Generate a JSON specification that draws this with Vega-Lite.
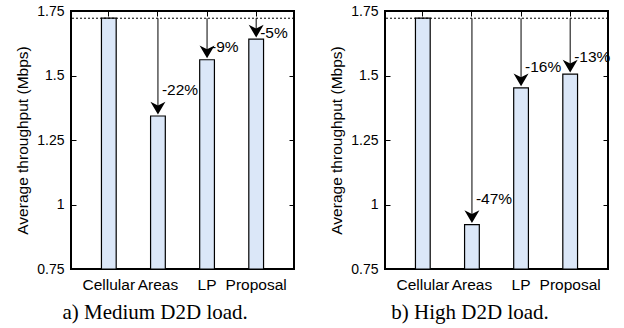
{
  "$schema": "https://vega.github.io/schema/vega-lite/v6.json",
  "background": "white",
  "padding": {"left": 14, "top": 3, "right": 0, "bottom": 0},
  "config": {
    "font": "Liberation Sans",
    "view": {"stroke": "black", "strokeWidth": 2},
    "axis": {"domain": false, "grid": false, "labelColor": "black", "titleColor": "black", "tickColor": "black", "labelFont": "Liberation Sans", "titleFont": "Liberation Sans", "titleFontWeight": "normal"},
    "title": {"font": "Liberation Serif", "fontSize": 21, "fontWeight": "normal", "orient": "bottom", "color": "black", "offset": 9, "frame": "bounds", "anchor": "middle"},
    "concat": {"spacing": 32}
  },
  "datasets": {
    "medium": [
      {"cat": "Cellular", "value": 1.722, "label": ""},
      {"cat": "Areas", "value": 1.343, "label": "-22%"},
      {"cat": "LP", "value": 1.561, "label": "-9%"},
      {"cat": "Proposal", "value": 1.641, "label": "-5%"}
    ],
    "high": [
      {"cat": "Cellular", "value": 1.722, "label": ""},
      {"cat": "Areas", "value": 0.922, "label": "-47%"},
      {"cat": "LP", "value": 1.452, "label": "-16%"},
      {"cat": "Proposal", "value": 1.505, "label": "-13%"}
    ]
  },
  "hconcat": [
    {
      "width": 223, "height": 258,
      "data": {"name": "medium"},
      "title": {"text": "a) Medium D2D load."},
      "transform": [
        {"joinaggregate": [{"op": "max", "field": "value", "as": "ref"}]},
        {"calculate": "datum.value + min(0.3 * (datum.ref - datum.value), 0.1)", "as": "labelY"}
      ],
      "resolve": {"axis": {"x": "independent", "y": "independent"}},
      "layer": [
        {
          "mark": {"type": "bar", "fill": "#dbe7f8", "stroke": "black", "strokeWidth": 1.2},
          "encoding": {
            "x": {"field": "cat", "type": "nominal", "sort": ["Cellular", "Areas", "LP", "Proposal"], "scale": {"domain": ["Cellular", "Areas", "LP", "Proposal"], "paddingInner": 0.7, "paddingOuter": 0.62},
              "axis": {"orient": "bottom", "title": null, "labelAngle": 0, "ticks": false, "labelFontSize": 15.5, "labelPadding": 8}},
            "y": {"field": "value", "type": "quantitative", "scale": {"domain": [0.75, 1.75], "zero": false, "nice": false},
              "axis": {"orient": "left", "values": [0.75, 1, 1.25, 1.5, 1.75], "format": ".3~g", "tickSize": -5, "labelPadding": 12, "labelFontSize": 14, "title": "Average throughput (Mbps)", "titleFontSize": 15.5, "titlePadding": 6}},
            "y2": {"datum": 0.75}
          }
        },
        {
          "transform": [{"filter": "datum.label != ''"}],
          "mark": {"type": "rule", "strokeWidth": 1, "color": "black", "y2Offset": -8},
          "encoding": {
            "x": {"field": "cat", "type": "nominal", "sort": ["Cellular", "Areas", "LP", "Proposal"], "axis": {"orient": "top", "title": null, "labels": false, "tickSize": -5}},
            "y": {"field": "ref", "type": "quantitative", "axis": {"orient": "right", "title": null, "labels": false, "values": [0.75, 1, 1.25, 1.5, 1.75], "tickSize": -5}},
            "y2": {"field": "value"}
          }
        },
        {
          "transform": [{"filter": "datum.label != ''"}],
          "mark": {"type": "point", "shape": "M0,0.85L-1,-0.85L0,-0.35L1,-0.85Z", "filled": true, "fill": "black", "opacity": 1, "size": 225, "yOffset": -8},
          "encoding": {
            "x": {"field": "cat", "type": "nominal", "sort": ["Cellular", "Areas", "LP", "Proposal"], "axis": null},
            "y": {"field": "value", "type": "quantitative", "axis": null}
          }
        },
        {
          "transform": [{"filter": "datum.label != ''"}],
          "mark": {"type": "text", "align": "left", "baseline": "middle", "dx": 4, "fontSize": 15.5, "color": "black"},
          "encoding": {
            "x": {"field": "cat", "type": "nominal", "sort": ["Cellular", "Areas", "LP", "Proposal"], "axis": null},
            "y": {"field": "labelY", "type": "quantitative", "axis": null},
            "text": {"field": "label"}
          }
        },
        {
          "transform": [{"filter": "datum.cat === 'Cellular'"}],
          "mark": {"type": "rule", "strokeWidth": 1, "color": "black", "strokeDash": [2, 2]},
          "encoding": {
            "y": {"field": "value", "type": "quantitative", "axis": null}
          }
        }
      ]
    },
    {
      "width": 223, "height": 258,
      "data": {"name": "high"},
      "title": {"text": "b) High D2D load."},
      "transform": [
        {"joinaggregate": [{"op": "max", "field": "value", "as": "ref"}]},
        {"calculate": "datum.value + min(0.3 * (datum.ref - datum.value), 0.1)", "as": "labelY"}
      ],
      "resolve": {"axis": {"x": "independent", "y": "independent"}},
      "layer": [
        {
          "mark": {"type": "bar", "fill": "#dbe7f8", "stroke": "black", "strokeWidth": 1.2},
          "encoding": {
            "x": {"field": "cat", "type": "nominal", "sort": ["Cellular", "Areas", "LP", "Proposal"], "scale": {"domain": ["Cellular", "Areas", "LP", "Proposal"], "paddingInner": 0.7, "paddingOuter": 0.62},
              "axis": {"orient": "bottom", "title": null, "labelAngle": 0, "ticks": false, "labelFontSize": 15.5, "labelPadding": 8}},
            "y": {"field": "value", "type": "quantitative", "scale": {"domain": [0.75, 1.75], "zero": false, "nice": false},
              "axis": {"orient": "left", "values": [0.75, 1, 1.25, 1.5, 1.75], "format": ".3~g", "tickSize": -5, "labelPadding": 12, "labelFontSize": 14, "title": "Average throughput (Mbps)", "titleFontSize": 15.5, "titlePadding": 6}},
            "y2": {"datum": 0.75}
          }
        },
        {
          "transform": [{"filter": "datum.label != ''"}],
          "mark": {"type": "rule", "strokeWidth": 1, "color": "black", "y2Offset": -8},
          "encoding": {
            "x": {"field": "cat", "type": "nominal", "sort": ["Cellular", "Areas", "LP", "Proposal"], "axis": {"orient": "top", "title": null, "labels": false, "tickSize": -5}},
            "y": {"field": "ref", "type": "quantitative", "axis": {"orient": "right", "title": null, "labels": false, "values": [0.75, 1, 1.25, 1.5, 1.75], "tickSize": -5}},
            "y2": {"field": "value"}
          }
        },
        {
          "transform": [{"filter": "datum.label != ''"}],
          "mark": {"type": "point", "shape": "M0,0.85L-1,-0.85L0,-0.35L1,-0.85Z", "filled": true, "fill": "black", "opacity": 1, "size": 225, "yOffset": -8},
          "encoding": {
            "x": {"field": "cat", "type": "nominal", "sort": ["Cellular", "Areas", "LP", "Proposal"], "axis": null},
            "y": {"field": "value", "type": "quantitative", "axis": null}
          }
        },
        {
          "transform": [{"filter": "datum.label != ''"}],
          "mark": {"type": "text", "align": "left", "baseline": "middle", "dx": 4, "fontSize": 15.5, "color": "black"},
          "encoding": {
            "x": {"field": "cat", "type": "nominal", "sort": ["Cellular", "Areas", "LP", "Proposal"], "axis": null},
            "y": {"field": "labelY", "type": "quantitative", "axis": null},
            "text": {"field": "label"}
          }
        },
        {
          "transform": [{"filter": "datum.cat === 'Cellular'"}],
          "mark": {"type": "rule", "strokeWidth": 1, "color": "black", "strokeDash": [2, 2]},
          "encoding": {
            "y": {"field": "value", "type": "quantitative", "axis": null}
          }
        }
      ]
    }
  ]
}
